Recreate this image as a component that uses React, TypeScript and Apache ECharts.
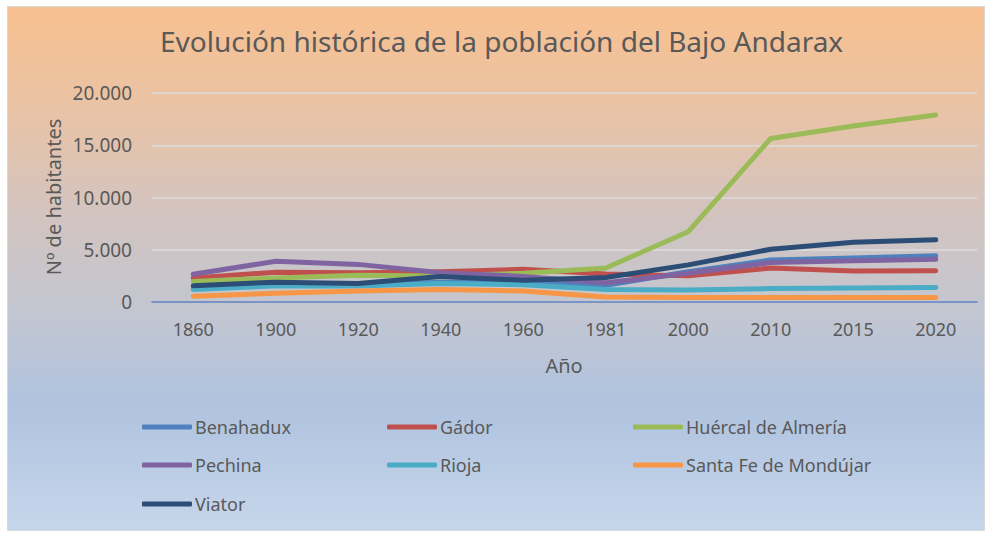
import React, { useEffect, useRef } from "react";
import * as echarts from "echarts";

const years = ["1860", "1900", "1920", "1940", "1960", "1981", "2000", "2010", "2015", "2020"];
const benahadux = [1300, 1700, 1650, 1900, 1900, 1600, 2900, 4020, 4220, 4430];
const gador = [2300, 2850, 2800, 2900, 3130, 2680, 2500, 3250, 2970, 2980];
const huercal = [1950, 2300, 2550, 2500, 2750, 3250, 6730, 15650, 16850, 17900];
const pechina = [2650, 3900, 3600, 2800, 2450, 1850, 2750, 3780, 3950, 4080];
const rioja = [1200, 1550, 1530, 1780, 1650, 1200, 1150, 1280, 1340, 1380];
const santaFe = [550, 830, 1050, 1200, 1050, 480, 420, 420, 420, 420];
const viator = [1550, 1900, 1780, 2430, 2080, 2350, 3550, 5050, 5710, 5950];

const seriesNames = [
  "Benahadux",
  "Gádor",
  "Huércal de Almería",
  "Pechina",
  "Rioja",
  "Santa Fe de Mondújar",
  "Viator",
];
const seriesData = [benahadux, gador, huercal, pechina, rioja, santaFe, viator];
const seriesColors = ["#4F81BD", "#C0504D", "#9BBB59", "#8064A2", "#4BACC6", "#F79646", "#2C4D75"];

const FONT = "'Noto Sans', sans-serif";
const TXT = "#595959";

export default function App() {
  const ref = useRef<HTMLDivElement>(null);

  useEffect(() => {
    if (!ref.current) return;
    const chart = echarts.init(ref.current, undefined, { renderer: "svg" });

    const legendCols = [142, 387, 633];
    const legendRows = [428, 466, 505];
    const legends = seriesNames.map((name, i) => ({
      data: [name],
      left: legendCols[i % 3],
      top: legendRows[Math.floor(i / 3)] - 10,
      padding: 0,
      itemWidth: 50,
      itemHeight: 5,
      itemGap: 0,
      icon: "roundRect",
      selectedMode: false,
      textStyle: { color: TXT, fontSize: 18, fontFamily: FONT, padding: [0, 0, 0, -2] },
    }));

    chart.setOption({
      animation: false,
      backgroundColor: "transparent",
      textStyle: { fontFamily: FONT },
      grid: { left: 152, top: 93, width: 825, height: 209, containLabel: false },
      xAxis: {
        type: "category",
        data: years,
        boundaryGap: true,
        axisLine: { show: true, lineStyle: { color: "#5A7FBF", width: 1.5 } },
        axisTick: { show: false },
        axisLabel: { color: TXT, fontSize: 18, fontFamily: FONT, margin: 18 },
      },
      yAxis: {
        type: "value",
        min: 0,
        max: 20000,
        interval: 5000,
        axisLine: { show: false },
        axisTick: { show: false },
        splitLine: { lineStyle: { color: "#DCDCDC", width: 1.5 } },
        axisLabel: {
          color: TXT,
          fontSize: 19,
          fontFamily: FONT,
          margin: 20,
          formatter: (v: number) => v.toLocaleString("de-DE"),
        },
      },
      legend: legends,
      graphic: [
        {
          type: "text",
          left: 160,
          top: 27,
          style: {
            text: "Evolución histórica de la población del Bajo Andarax",
            fill: TXT,
            font: `28px ${FONT}`,
          },
        },
        {
          type: "text",
          x: 53,
          y: 197,
          rotation: Math.PI / 2,
          style: {
            text: "Nº de habitantes",
            fill: TXT,
            font: `20px ${FONT}`,
            align: "center",
            verticalAlign: "middle",
          },
        },
        {
          type: "text",
          x: 564,
          y: 365,
          style: {
            text: "Año",
            fill: TXT,
            font: `20px ${FONT}`,
            align: "center",
            verticalAlign: "middle",
          },
        },
      ],
      series: seriesNames.map((name, i) => ({
        name,
        type: "line",
        data: seriesData[i],
        showSymbol: false,
        symbol: "none",
        color: seriesColors[i],
        lineStyle: { width: 5, color: seriesColors[i], cap: "round", join: "round" },
      })),
    });

    return () => chart.dispose();
  }, []);

  return (
    <div style={{ position: "absolute", left: 0, top: 0, width: 992, height: 536 }}>
      <div
        style={{
          position: "absolute",
          left: 7,
          top: 6,
          width: 978,
          height: 525,
          boxSizing: "border-box",
          border: "1px solid #D9D9D9",
          background:
            "linear-gradient(to bottom, #F8C08F 0%, #E9C3A6 20%, #D2C4C0 40%, #C3C6D0 58%, #AFC3DF 76%, #C6D6EB 100%)",
        }}
      />
      <div ref={ref} style={{ position: "absolute", left: 0, top: 0, width: 992, height: 536 }} />
    </div>
  );
}
